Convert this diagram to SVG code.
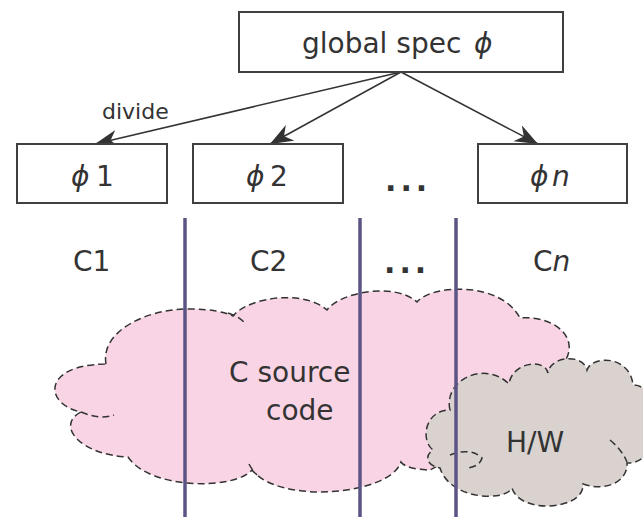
<svg xmlns="http://www.w3.org/2000/svg" width="643" height="517" viewBox="0 0 643 517">
<style>
text{font-family:"DejaVu Sans","Verdana",sans-serif;fill:#333;font-size:28px}
.box{fill:#fff;stroke:#404040;stroke-width:2}
.cloud{stroke:#333;stroke-width:1.5;stroke-dasharray:7 4}
.inner{fill:none;stroke:#333;stroke-width:1.5;stroke-dasharray:7 4}
.vline{stroke:#5b5484;stroke-width:3.5}
.conn{stroke:#333;stroke-width:1.5;fill:none}
.it{font-style:italic}
.dots{font-size:30px;font-weight:bold;letter-spacing:4px}
</style>
<defs>
<marker id="ah" markerUnits="userSpaceOnUse" markerWidth="26" markerHeight="20" refX="23" refY="9" orient="auto">
<path d="M0,0 L23,9 L0,18 L7,9 Z" fill="#333"/>
</marker>
</defs>
<rect width="643" height="517" fill="#fff"/>

<g id="source-cloud">
<path class="cloud" fill="#f9d4e5" d="M106,364 C100,330 150,308 190,309 C210,309 225,312 233,316 C250,296 305,290 327,310 C340,292 395,282 417,302 C430,285 500,280 520,318 C555,315 585,340 560,368 L445,462 L430,470 C420,470 405,468 401,462 C390,495 280,505 252,470 C235,490 150,490 128,457 C80,455 55,425 81,412 C45,405 40,365 106,364 Z"/>
<path class="inner" d="M81,412 Q100,420 114,415"/>
<path class="inner" d="M228,313 Q238,316 245,323"/>
<path class="inner" d="M249,464 Q252,470 257,475"/>
</g>

<g id="hw-cloud">
<path class="cloud" fill="#d9d2cf" d="M450,410 C443,380 485,360 509,384 C512,362 545,358 548,373 C550,356 583,353 587,370 C592,355 630,355 633,385 C665,385 665,465 627,463 C628,482 605,492 583,484 C585,510 520,515 512,488 C505,502 450,500 440,468 C425,465 425,455 433,450 C420,440 425,410 450,410 Z"/>
<path class="inner" d="M450,455 Q470,447 482,458 Q480,466 468,468"/>
<path class="inner" d="M610,440 Q622,450 627,462"/>
</g>

<g id="partition-lines">
<line class="vline" x1="185" y1="218" x2="185" y2="517"/>
<line class="vline" x1="360" y1="218" x2="360" y2="517"/>
<line class="vline" x1="456" y1="218" x2="456" y2="517"/>
</g>

<g id="connectors">
<line class="conn" x1="401" y1="72" x2="95" y2="144" marker-end="url(#ah)"/>
<line class="conn" x1="401" y1="72" x2="270" y2="144" marker-end="url(#ah)"/>
<line class="conn" x1="401" y1="72" x2="538" y2="144" marker-end="url(#ah)"/>
<text x="102" y="119" style="font-size:22px">divide</text>
</g>

<g id="global-spec">
<rect class="box" x="239" y="12" width="324" height="60"/>
<text x="302" y="53">global spec</text>
<text x="474" y="53" class="it">ϕ</text>
</g>

<g id="spec1">
<rect class="box" x="17" y="144" width="150" height="59"/>
<text x="71" y="186"><tspan class="it">ϕ</tspan><tspan x="96">1</tspan></text>
</g>
<g id="spec2">
<rect class="box" x="193" y="144" width="150" height="59"/>
<text x="246" y="186"><tspan class="it">ϕ</tspan><tspan x="270">2</tspan></text>
</g>
<g id="specn">
<rect class="box" x="478" y="144" width="149" height="59"/>
<text x="530" y="186"><tspan class="it">ϕ</tspan><tspan x="552" class="it">n</tspan></text>
</g>
<g id="dots1"><text x="385" y="191" class="dots">...</text></g>

<g id="labels">
<text x="73" y="271">C1</text>
<text x="250" y="271">C2</text>
<text x="384" y="273" class="dots">...</text>
<text x="533" y="271">C<tspan class="it">n</tspan></text>
<text x="229" y="382">C source</text>
<text x="266" y="420">code</text>
<text x="506" y="452">H/W</text>
</g>
</svg>
